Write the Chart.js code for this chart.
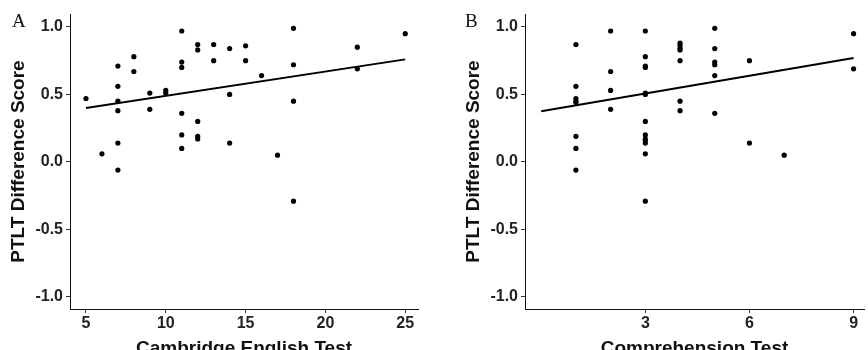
<!DOCTYPE html>
<html>
<head>
<meta charset="utf-8">
<script src="https://cdn.jsdelivr.net/npm/chart.js@4"></script>
<style>
  html, body { margin: 0; padding: 0; background: #fff; overflow: hidden; }
  #wrap { position: relative; width: 868px; height: 350px; overflow: hidden; }
  canvas { position: absolute; top: 0; }
  #cA { left: 0; }
  #cB { left: 434px; }
  .tag { position: absolute; top: 10px; font-family: "Liberation Serif", serif; font-size: 19px; color: #111; }
</style>
</head>
<body>
<div id="wrap">
  <canvas id="cA" width="434" height="360"></canvas>
  <canvas id="cB" width="434" height="360"></canvas>
  <div class="tag" style="left:12px">A</div>
  <div class="tag" style="left:465px">B</div>
</div>
<script>
/* ---------- Data ---------- */
const ticksY = [-1, -0.5, 0, 0.5, 1];
const ticksA = [5, 10, 15, 20, 25];
const ticksB = [3, 6, 9];

const cambridgeX = [5, 6, 7, 7, 7, 7, 7, 7, 8, 8, 9, 9, 10, 10,
  11, 11, 11, 11, 11, 11, 12, 12, 12, 12, 12, 13, 13, 14, 14, 14,
  15, 15, 16, 17, 18, 18, 18, 18, 22, 22, 25];
const cambridgeY = [0.47, 0.06, 0.71, 0.56, 0.45, 0.38, 0.14, -0.06, 0.78, 0.67, 0.51, 0.39, 0.53, 0.51,
  0.97, 0.74, 0.70, 0.36, 0.20, 0.10, 0.87, 0.83, 0.30, 0.19, 0.17, 0.87, 0.75, 0.84, 0.50, 0.14,
  0.86, 0.75, 0.64, 0.05, 0.99, 0.72, 0.45, -0.29, 0.85, 0.69, 0.95];

const comprehensionX = [1, 1, 1, 1, 1, 1, 1, 1, 2, 2, 2, 2,
  3, 3, 3, 3, 3, 3, 3, 3, 3, 3, 3, 3, 3,
  4, 4, 4, 4, 4, 4, 4, 5, 5, 5, 5, 5, 5, 6, 6, 7, 9, 9];
const comprehensionY = [0.87, 0.56, 0.47, 0.45, 0.44, 0.19, 0.10, -0.06, 0.97, 0.67, 0.53, 0.39,
  0.97, 0.78, 0.71, 0.70, 0.51, 0.50, 0.30, 0.20, 0.17, 0.16, 0.14, 0.06, -0.29,
  0.88, 0.86, 0.84, 0.83, 0.75, 0.45, 0.38, 0.99, 0.84, 0.74, 0.72, 0.64, 0.36, 0.75, 0.14, 0.05, 0.95, 0.69];

// fitted regression lines (end points)
const fitAX = [5, 25];
const fitAY = [0.40, 0.76];
const fitBX = [0, 9];
const fitBY = [0.375, 0.77];

/* ---------- Chart ---------- */
const FONT = "'Liberation Sans', Arial, sans-serif";

function panel(id, xs, ys, fx, fy, opt) {
  const pts = xs.map((x, i) => ({ x, y: ys[i] }));
  const fit = fx.map((x, i) => ({ x, y: fy[i] }));

  return new Chart(document.getElementById(id), {
    type: "scatter",
    data: {
      datasets: [
        { data: pts, pointRadius: 2.6, pointBorderWidth: 0, pointBackgroundColor: "#000", order: 1 },
        { type: "line", data: fit, borderColor: "#000", borderWidth: 2, pointRadius: 0, fill: false, order: 2 }
      ]
    },
    options: {
      responsive: false,
      animation: false,
      devicePixelRatio: 1,
      layout: { padding: { left: 0, right: opt.padRight, top: 14, bottom: 0 } },
      plugins: { legend: { display: false }, tooltip: { enabled: false } },
      scales: {
        x: {
          type: "linear",
          min: opt.xMin,
          max: opt.xMax,
          afterBuildTicks: s => { s.ticks = opt.xTicks.map(v => ({ value: v })); },
          afterFit: s => { s.height = 51; },
          grid: { drawOnChartArea: false, drawTicks: true, tickLength: 4, color: "#333" },
          border: { display: true, color: "#111", width: 1 },
          ticks: { color: "#222", padding: 1, font: { family: FONT, size: 16, weight: "bold" },
                   maxRotation: 0, callback: v => String(v) },
          title: { display: true, text: opt.xTitle, color: "#111",
                   font: { family: FONT, size: 19, weight: "bold" }, padding: { top: 3.6, bottom: 0 } }
        },
        y: {
          min: -1.089,
          max: 1.096,
          afterBuildTicks: s => { s.ticks = ticksY.map(v => ({ value: v })); },
          afterFit: s => { s.width = opt.axisW; },
          grid: { drawOnChartArea: false, drawTicks: true, tickLength: 4, color: "#333" },
          border: { display: true, color: "#111", width: 1 },
          ticks: { color: "#222", padding: 3, font: { family: FONT, size: 16, weight: "bold" },
                   callback: v => v.toFixed(1) },
          title: { display: true, text: "PTLT Difference Score", color: "#111",
                   font: { family: FONT, size: 19, weight: "bold" }, padding: { top: opt.yTitlePad, bottom: 0 } }
        }
      }
    }
  });
}

panel("cA", cambridgeX, cambridgeY, fitAX, fitAY, {
  xTicks: ticksA, xMin: 4.0, xMax: 25.8, axisW: 70, padRight: 16,
  xTitle: "Cambridge English Test", yTitlePad: 7.6
});

panel("cB", comprehensionX, comprehensionY, fitBX, fitBY, {
  xTicks: ticksB, xMin: -0.467, xMax: 9.30, axisW: 91, padRight: 0,
  xTitle: "Comprehension Test", yTitlePad: 28.1
});
</script>
</body>
</html>
